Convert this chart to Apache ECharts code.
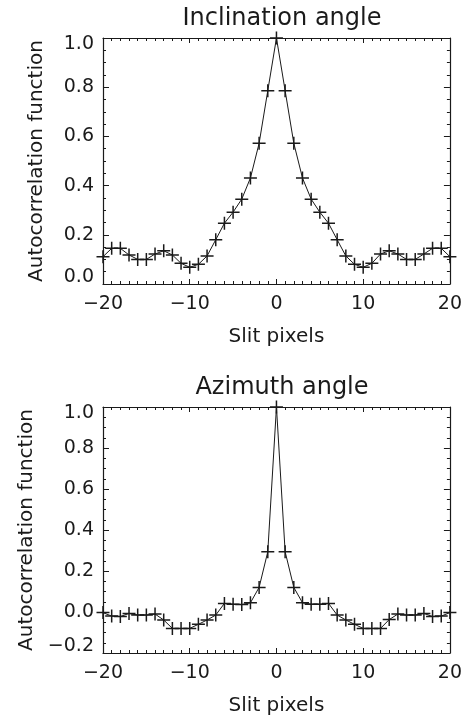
<!DOCTYPE html>
<html>
<head>
<meta charset="utf-8">
<script src="https://cdn.jsdelivr.net/npm/echarts@6/dist/echarts.min.js"></script>
<style>
  html, body { margin: 0; padding: 0; background: #fff; }
  #main { width: 465px; height: 717px; }
</style>
</head>
<body>
<div id="main"></div>
<script>
// 滞后像素
var lags = [-20, -19, -18, -17, -16, -15, -14, -13, -12, -11, -10, -9, -8, -7, -6, -5, -4, -3, -2, -1, 0,
            1, 2, 3, 4, 5, 6, 7, 8, 9, 10, 11, 12, 13, 14, 15, 16, 17, 18, 19, 20];
// Inclination angle autocorrelation
var inclValues = [0.111, 0.145, 0.145, 0.118, 0.100, 0.100, 0.122, 0.135, 0.118, 0.084, 0.068, 0.080, 0.114, 0.180, 0.247, 0.292, 0.345, 0.431, 0.572, 0.786, 1.0,
                  0.786, 0.572, 0.431, 0.345, 0.292, 0.247, 0.180, 0.114, 0.080, 0.068, 0.084, 0.122, 0.135, 0.122, 0.100, 0.100, 0.122, 0.145, 0.145, 0.111];
// Azimuth angle autocorrelation
var aziValues = [-0.003, -0.020, -0.022, -0.007, -0.015, -0.015, -0.010, -0.039, -0.080, -0.080, -0.080, -0.060, -0.039, -0.015, 0.042, 0.038, 0.036, 0.045, 0.120, 0.294, 1.0,
                 0.294, 0.120, 0.045, 0.038, 0.038, 0.042, -0.015, -0.039, -0.060, -0.080, -0.080, -0.080, -0.037, -0.010, -0.015, -0.015, -0.007, -0.022, -0.020, -0.003];
var titles = ['Inclination angle', 'Azimuth angle'];
var xTitle = 'Slit pixels';
var yTitle = 'Autocorrelation function';

var FONT = 'DejaVu Sans';
var INK = '#1a1a1a';

function pairs(vals) {
    var arr = [];
    for (var i = 0; i < lags.length; i++) {
        arr.push([lags[i], vals[i]]);
    }
    return arr;
}
function minus(s) {
    return String(s).replace('-', '\u2212');
}

var myChart = echarts.init(document.getElementById('main'), null, {renderer: 'canvas'});

var grids = [
    {left: 103, right: 13, top: 38, height: 246},
    {left: 103, right: 13, top: 407, height: 246}
];
var yRanges = [[0, 1.0], [-0.2, 1.0]];

var xAxes = [], yAxes = [], series = [], titleList = [];
for (var g = 0; g < 2; g++) {
    grids[g].show = false;
    (function (lo, hi) {
        // 下方x轴
        xAxes.push({
            type: 'value', gridIndex: g, position: 'bottom',
            min: -20, max: 20, interval: 10,
            name: xTitle, nameLocation: 'middle', nameGap: 43,
            nameTextStyle: {fontFamily: FONT, fontSize: 20, color: INK},
            axisLine: {show: true, onZero: false, lineStyle: {color: INK, width: 1.2}},
            axisTick: {show: true, inside: true, length: 5, lineStyle: {color: INK}},
            minorTick: {show: true, splitNumber: 10, length: 3, lineStyle: {color: INK}},
            axisLabel: {fontFamily: FONT, fontSize: 19, color: INK, margin: 11,
                formatter: function (v) { return minus(v); }},
            splitLine: {show: false}
        });
        // 上方x轴(只有刻度)
        xAxes.push({
            type: 'value', gridIndex: g, position: 'top',
            min: -20, max: 20, interval: 10,
            axisLine: {show: true, onZero: false, lineStyle: {color: INK, width: 1.2}},
            axisTick: {show: true, inside: true, length: 5, lineStyle: {color: INK}},
            minorTick: {show: true, splitNumber: 10, length: 3, lineStyle: {color: INK}},
            axisLabel: {show: false},
            splitLine: {show: false}
        });
        yAxes.push({
            type: 'value', gridIndex: g, position: 'left',
            min: lo, max: hi, interval: 0.2,
            name: yTitle, nameLocation: 'middle', nameGap: 56,
            nameTextStyle: {fontFamily: FONT, fontSize: 20, color: INK},
            axisLine: {show: true, onZero: false, lineStyle: {color: INK, width: 1.2}},
            axisTick: {show: true, inside: true, length: 6, lineStyle: {color: INK}},
            minorTick: {show: true, splitNumber: 4, length: 3, lineStyle: {color: INK}},
            axisLabel: {
                fontFamily: FONT, fontSize: 19, color: INK, margin: 9,
                formatter: function (v) {
                    var s = minus(v.toFixed(1));
                    // 两端标签向内偏移
                    if (Math.abs(v - lo) < 1e-6) return '{lo|' + s + '}';
                    if (Math.abs(v - hi) < 1e-6) return '{hi|' + s + '}';
                    return s;
                },
                rich: {
                    lo: {fontFamily: FONT, fontSize: 19, color: INK, padding: [0, 0, 13, 0]},
                    hi: {fontFamily: FONT, fontSize: 19, color: INK, padding: [13, 0, 0, 0]}
                }
            },
            splitLine: {show: false}
        });
        yAxes.push({
            type: 'value', gridIndex: g, position: 'right',
            min: lo, max: hi, interval: 0.2,
            axisLine: {show: true, onZero: false, lineStyle: {color: INK, width: 1.2}},
            axisTick: {show: true, inside: true, length: 6, lineStyle: {color: INK}},
            minorTick: {show: true, splitNumber: 4, length: 3, lineStyle: {color: INK}},
            axisLabel: {show: false},
            splitLine: {show: false}
        });
    })(yRanges[g][0], yRanges[g][1]);
    series.push({
        type: 'line',
        xAxisIndex: g * 2, yAxisIndex: g * 2,
        data: pairs(g === 0 ? inclValues : aziValues),
        symbol: 'path://M6,0L6,12M0,6L12,6',
        symbolSize: 13,
        clip: false,
        itemStyle: {color: 'none', borderColor: INK, borderWidth: 1.5},
        lineStyle: {color: INK, width: 1},
        emphasis: {disabled: true},
        z: 5
    });
    titleList.push({
        text: titles[g],
        left: 277, textAlign: 'center',
        top: g === 0 ? 2 : 371,
        textStyle: {fontFamily: FONT, fontSize: 24, fontWeight: 'normal', color: INK}
    });
}

var option = {
    animation: false,
    backgroundColor: '#fff',
    title: titleList,
    grid: grids,
    xAxis: xAxes,
    yAxis: yAxes,
    series: series
};
myChart.setOption(option);
</script>
</body>
</html>
